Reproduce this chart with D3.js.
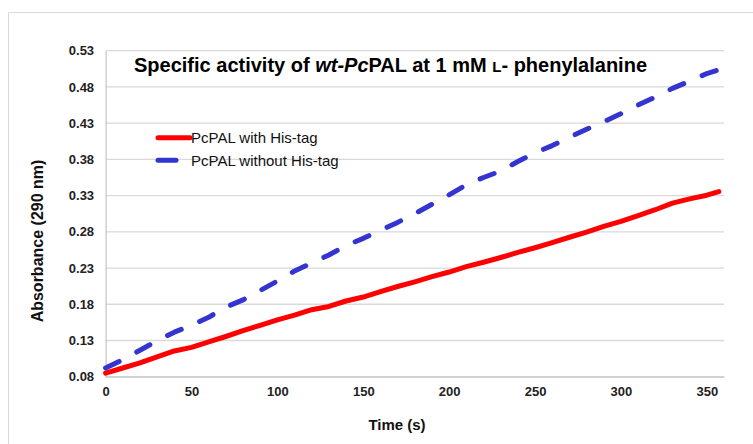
<!DOCTYPE html>
<html>
<head>
<meta charset="utf-8">
<script src="https://cdn.jsdelivr.net/npm/d3@7"></script>
<style>
  body { margin: 0; background: #fff; }
  svg { font-family: Arial, "Liberation Sans", sans-serif; }
</style>
</head>
<body>
<svg id="chart"></svg>
<script>
// 数据
const times = [0, 10, 20, 30, 40, 50, 60, 70, 80, 90, 100, 110, 120, 130, 140, 150, 160, 170, 180,
  190, 200, 210, 220, 230, 240, 250, 260, 270, 280, 290, 300, 310, 320, 330, 340, 350, 357];
const withTag = [0.085, 0.092, 0.099, 0.1075, 0.1155, 0.1205, 0.128, 0.1355, 0.1435, 0.151, 0.1585,
  0.165, 0.1725, 0.177, 0.1845, 0.190, 0.1975, 0.2045, 0.211, 0.218, 0.2245, 0.232, 0.238, 0.2445,
  0.2515, 0.258, 0.265, 0.2725, 0.2795, 0.2875, 0.2945, 0.3025, 0.3105, 0.3195, 0.3255, 0.3305, 0.3355];
const withoutTag = [0.092, 0.1035, 0.1165, 0.1295, 0.1415, 0.151, 0.162, 0.176, 0.186, 0.199, 0.212,
  0.226, 0.237, 0.248, 0.261, 0.271, 0.282, 0.293, 0.305, 0.318, 0.331, 0.345, 0.355, 0.364, 0.377,
  0.389, 0.399, 0.4105, 0.4215, 0.432, 0.443, 0.455, 0.466, 0.478, 0.488, 0.4985, 0.5035];
const yTicks = [0.08, 0.13, 0.18, 0.23, 0.28, 0.33, 0.38, 0.43, 0.48, 0.53];
const xTicks = [0, 50, 100, 150, 200, 250, 300, 350];
const seriesNames = ["PcPAL with His-tag", "PcPAL without His-tag"];

const width = 753, height = 444;
const svg = d3.select("#chart").attr("width", width).attr("height", height);

// 外框
svg.append("path")
  .attr("d", `M8.5,${height} V12.5 H${width}`)
  .attr("fill", "none")
  .attr("stroke", "#d9d9d9");

const xScale = d3.scaleLinear().domain([0, 360]).range([105.6, 724]);
const yScale = d3.scaleLinear().domain([0.08, 0.53]).range([376.7, 50.7]);

// 网格线
svg.append("g")
  .selectAll("line")
  .data(yTicks)
  .join("line")
  .attr("x1", xScale(0))
  .attr("x2", xScale(360))
  .attr("y1", d => yScale(d))
  .attr("y2", d => yScale(d))
  .attr("stroke", "#d9d9d9")
  .attr("stroke-width", 1.3);

//x轴
svg.append("g")
  .attr("transform", `translate(0,${yScale(0.08)})`)
  .call(d3.axisBottom(xScale).tickValues(xTicks).tickSize(0).tickPadding(10.5).tickFormat(d3.format("d")))
  .call(g => g.select(".domain").attr("stroke", "#c8c8c8").attr("stroke-width", 1.3))
  .call(g => g.selectAll("text")
    .attr("font-size", 13).attr("font-weight", "bold").attr("fill", "#222"));

//y轴
svg.append("g")
  .attr("transform", `translate(${xScale(0)},0)`)
  .call(d3.axisLeft(yScale).tickValues(yTicks).tickSize(0).tickPadding(11.5).tickFormat(d3.format(".2f")))
  .call(g => g.select(".domain").attr("stroke", "#c8c8c8").attr("stroke-width", 1.3))
  .call(g => g.selectAll("text")
    .attr("font-size", 13).attr("font-weight", "bold").attr("fill", "#222"));

// 轴标题
svg.append("text")
  .attr("x", 397)
  .attr("y", 430)
  .attr("text-anchor", "middle")
  .attr("font-size", 15)
  .attr("font-weight", "bold")
  .attr("fill", "#111")
  .text("Time (s)");

svg.append("text")
  .attr("transform", "translate(43,241) rotate(-90)")
  .attr("text-anchor", "middle")
  .attr("font-size", 16)
  .attr("font-weight", "bold")
  .attr("fill", "#111")
  .text("Absorbance (290 nm)");

// 标题
const title = svg.append("text")
  .attr("x", 134)
  .attr("y", 72)
  .attr("font-size", 20)
  .attr("font-weight", "bold")
  .attr("fill", "#000");
title.append("tspan").text("Specific activity of ");
title.append("tspan").attr("font-style", "italic").text("wt-Pc");
title.append("tspan").text("PAL at 1 mM ");
title.append("tspan").attr("font-size", 15).text("L");
title.append("tspan").text("- phenylalanine");

// 折线
const line = d3.line()
  .x((d, i) => xScale(times[i]))
  .y(d => yScale(d));

const colors = ["#ff0000", "#3434d0"];
const dashes = [null, "15,20"];

[withTag, withoutTag].forEach((vals, k) => {
  svg.append("path")
    .datum(vals)
    .attr("d", line)
    .attr("fill", "none")
    .attr("stroke", colors[k])
    .attr("stroke-width", 5)
    .attr("stroke-linecap", "round")
    .attr("stroke-linejoin", "round")
    .attr("stroke-dasharray", dashes[k]);
});

//图例
const legend = svg.append("g").attr("transform", "translate(158,137.7)");
const entries = legend.selectAll("g")
  .data(seriesNames)
  .join("g")
  .attr("transform", (d, i) => `translate(0,${i * 22.6})`);

entries.append("line")
  .attr("x1", 0)
  .attr("x2", (d, i) => i === 0 ? 32 : 18)
  .attr("stroke", (d, i) => colors[i])
  .attr("stroke-width", 5)
  .attr("stroke-linecap", "round");

entries.append("text")
  .attr("x", 33)
  .attr("y", 5.4)
  .attr("font-size", 15)
  .attr("fill", "#111")
  .text(d => d);
</script>
</body>
</html>
